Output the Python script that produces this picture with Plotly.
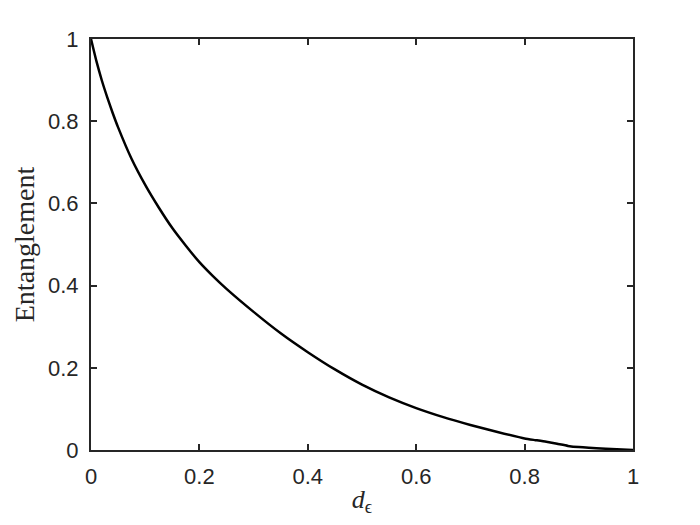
import plotly.graph_objects as go

d_eps = [0.0, 0.01, 0.02, 0.03, 0.04, 0.05, 0.075, 0.1, 0.125, 0.15, 0.175, 0.2,
         0.225, 0.25, 0.3, 0.35, 0.4, 0.45, 0.5, 0.55, 0.6, 0.65, 0.7, 0.75,
         0.8, 0.82, 0.84, 0.86, 0.88, 0.9, 0.95, 1.0]
entanglement = [1.0, 0.946, 0.899, 0.858, 0.820, 0.785, 0.708, 0.645, 0.590, 0.540, 0.497, 0.457,
                0.423, 0.392, 0.336, 0.284, 0.238, 0.196, 0.159, 0.128, 0.102, 0.080, 0.061, 0.044,
                0.028, 0.024, 0.020, 0.015, 0.010, 0.007, 0.003, 0.0]

tick_vals = [0, 0.2, 0.4, 0.6, 0.8, 1]
tick_text = ["0", "0.2", "0.4", "0.6", "0.8", "1"]

axis_color = "#262626"

fig = go.Figure()
fig.add_trace(go.Scatter(x=d_eps, y=entanglement, mode="lines",
                         line=dict(color="black", width=2.5, shape="spline", smoothing=0.5),
                         showlegend=False, hoverinfo="skip"))

common = dict(showline=True, linecolor=axis_color, linewidth=2, mirror="ticks",
              ticks="inside", ticklen=6, tickwidth=2, tickcolor=axis_color,
              showgrid=False, zeroline=False, tickvals=tick_vals, ticktext=tick_text,
              automargin=False,
              tickfont=dict(family="Liberation Sans, Arial", size=22, color=axis_color))

fig.update_xaxes(range=[0, 1], title=dict(text="<i>d</i><sub>ϵ</sub>",
                 font=dict(family="Liberation Serif, serif", size=26, color=axis_color), standoff=6),
                 ticklabelstandoff=6, **common)
fig.update_yaxes(range=[0, 1], title=dict(text="Entanglement",
                 font=dict(family="Liberation Serif, serif", size=28, color=axis_color), standoff=5),
                 ticklabelstandoff=6, **common)

fig.update_layout(width=684, height=509, margin=dict(l=83, r=59, t=31, b=67),
                  plot_bgcolor="white", paper_bgcolor="white")

fig.write_html("out.html")
